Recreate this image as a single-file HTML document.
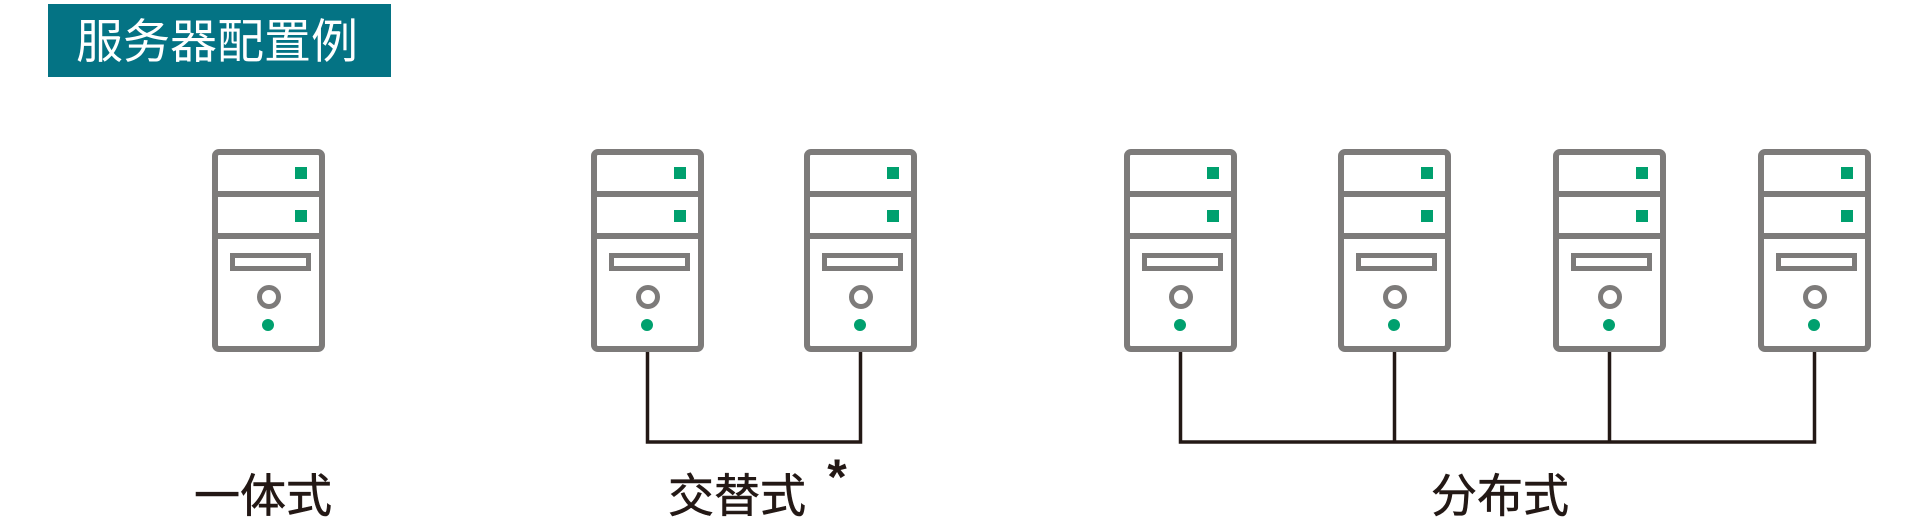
<!DOCTYPE html>
<html><head><meta charset="utf-8"><style>
html,body{margin:0;padding:0;background:#fff;width:1920px;height:521px;overflow:hidden}
</style></head><body>
<svg width="1920" height="521" viewBox="0 0 1920 521" xmlns="http://www.w3.org/2000/svg">
<defs>
<g id="srv">
<rect x="3" y="3" width="107" height="197" rx="4" fill="#fff" stroke="#7d7b7a" stroke-width="6"/>
<rect x="3" y="42" width="107" height="6" fill="#7d7b7a"/>
<rect x="3" y="84" width="107" height="6" fill="#7d7b7a"/>
<rect x="83" y="18" width="12" height="12" fill="#00a06e"/>
<rect x="83" y="61" width="12" height="12" fill="#00a06e"/>
<rect x="20.5" y="106.5" width="76" height="13" fill="none" stroke="#7d7b7a" stroke-width="5"/>
<circle cx="57" cy="148" r="9.5" fill="none" stroke="#7d7b7a" stroke-width="5"/>
<circle cx="56" cy="176" r="6" fill="#00a06e"/>
</g>
</defs>
<rect x="48" y="4" width="343" height="73" fill="#047384"/>
<text x="76" y="58" font-family="'Liberation Sans','Noto Sans CJK SC',sans-serif" font-size="47" fill="#fff">服务器配置例</text>

<g fill="none" stroke="#231815" stroke-width="3.5">
<polyline points="647.5,351 647.5,442 860.5,442 860.5,351"/>
<polyline points="1180.5,351 1180.5,442 1814.5,442 1814.5,351"/>
<line x1="1394.5" y1="351" x2="1394.5" y2="442"/>
<line x1="1609.5" y1="351" x2="1609.5" y2="442"/>
</g>

<use href="#srv" x="212" y="149"/>
<use href="#srv" x="591" y="149"/>
<use href="#srv" x="804" y="149"/>
<use href="#srv" x="1124" y="149"/>
<use href="#srv" x="1338" y="149"/>
<use href="#srv" x="1553" y="149"/>
<use href="#srv" x="1758" y="149"/>

<g font-family="'Liberation Sans','Noto Sans CJK SC',sans-serif" font-size="46" fill="#231815" text-anchor="middle" stroke="#231815" stroke-width="0.6">
<text x="263" y="512">一体式</text>
<text x="737" y="512">交替式</text>
<text x="1500" y="512">分布式</text>
</g>
<text x="837" y="494" font-family="'Liberation Sans',sans-serif" font-weight="bold" font-size="50" fill="#231815" text-anchor="middle">*</text>
</svg>
</body></html>
